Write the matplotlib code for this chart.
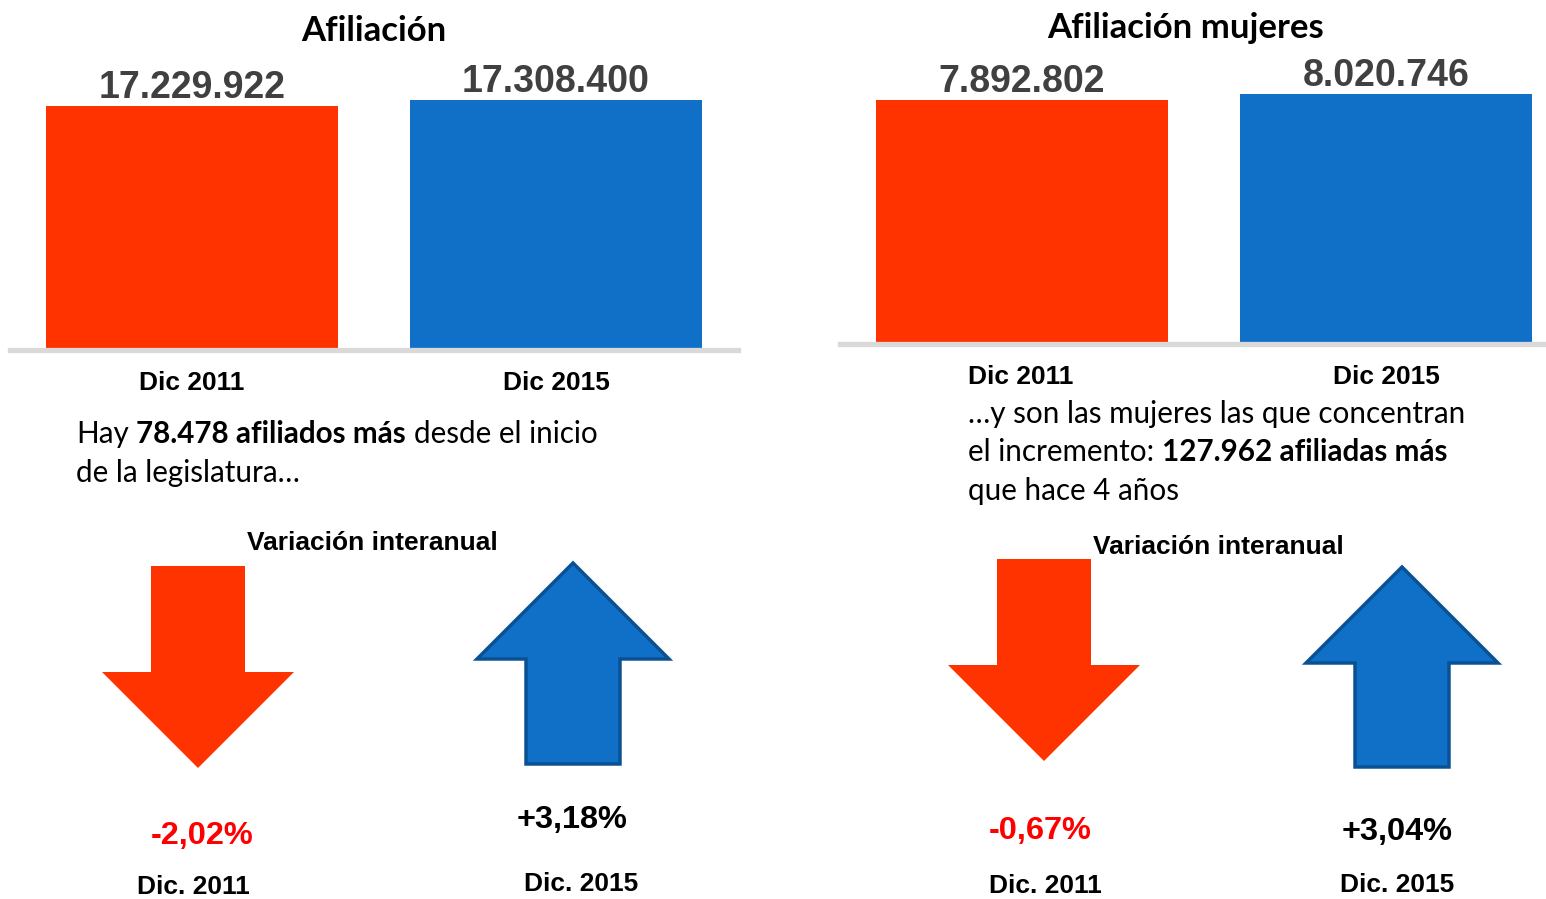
import matplotlib
matplotlib.use("Agg")
import matplotlib.pyplot as plt
from matplotlib.patches import Polygon

W, H = 1546, 899

# data
categories = ["Dic 2011", "Dic 2015"]
afiliacion = [17229922, 17308400]
afiliacion_mujeres = [7892802, 8020746]
var_labels = ["Dic. 2011", "Dic. 2015"]
var_total = [-2.02, 3.18]
var_mujeres = [-0.67, 3.04]

RED = "#ff3300"
BLUE = "#1070c8"
BLUE_EDGE = "#0a5194"
GREY = "#d9d9d9"
SANS = ["Liberation Sans", "DejaVu Sans"]
BODY = ["Lato", "DejaVu Sans"]


def fmt_es(v):
    return f"{v:,}".replace(",", ".")


def fmt_pct(v):
    s = f"{v:+.2f}%" if v > 0 else f"{v:.2f}%"
    return s.replace(".", ",")


def px_axes(fig, x0, y0, x1, y1):
    return fig.add_axes([x0 / W, 1 - y1 / H, (x1 - x0) / W, (y1 - y0) / H])


def bar_panel(ax, values, ylim, xlim):
    bars = ax.bar(range(len(values)), values, width=0.802, color=[RED, BLUE], zorder=1)
    ax.set_xlim(*xlim)
    ax.set_ylim(*ylim)
    for s in ["top", "left", "right"]:
        ax.spines[s].set_visible(False)
    ax.spines["bottom"].set_color(GREY)
    ax.spines["bottom"].set_linewidth(3.8)
    ax.spines["bottom"].set_zorder(3)
    ax.set_xticks([])
    ax.set_yticks([])
    for b, v in zip(bars, values):
        ax.annotate(fmt_es(v), (b.get_x() + b.get_width() / 2, v), xytext=(0, 0),
                    textcoords="offset points", ha="center", va="bottom",
                    fontsize=27, fontweight="bold", color="#404040", family=SANS)


fig = plt.figure(figsize=(W / 100, H / 100), dpi=100)

ax1 = px_axes(fig, 10, 0, 738, 350)
bar_panel(ax1, afiliacion, (14038402, 18616402), (-0.5, 1.5))
ax2 = px_axes(fig, 840, 0, 1546, 344)
bar_panel(ax2, afiliacion_mujeres, (2689746, 10025202), (-0.5, 1.44))

# overlay in pixel coordinates for text and arrows
ov = fig.add_axes([0, 0, 1, 1])
ov.set_xlim(0, W)
ov.set_ylim(H, 0)
ov.axis("off")
ov.patch.set_alpha(0)

ov.text(374, 31, "Afiliación", ha="center", va="center", fontsize=25,
        fontweight="bold", family=BODY)
ov.text(1186, 28, "Afiliación mujeres", ha="center", va="center", fontsize=25,
        fontweight="bold", family=BODY)

for cx, lab in zip([192, 556], categories):
    ov.text(cx, 383, lab, ha="center", va="center", fontsize=19, fontweight="bold", family=SANS)
for cx, lab in zip([1021, 1386], categories):
    ov.text(cx, 377, lab, ha="center", va="center", fontsize=19, fontweight="bold", family=SANS)

renderer = fig.canvas.get_renderer()


def rich_line(x, y, parts, size=21.3):
    sp = ov.text(0, 0, "x x", fontsize=size, family=BODY)
    nsp = ov.text(0, 0, "xx", fontsize=size, family=BODY)
    space = sp.get_window_extent(renderer).width - nsp.get_window_extent(renderer).width
    sp.remove()
    nsp.remove()
    for txt, weight in parts:
        t = ov.text(x, y, txt, fontsize=size, fontweight=weight, family=BODY,
                    ha="left", va="center")
        x += t.get_window_extent(renderer).width + space


rich_line(76, 434, [("Hay", "normal"), ("78.478 afiliados más", "bold"),
                    ("desde el inicio", "normal")])
rich_line(76, 473, [("de la legislatura…", "normal")])
rich_line(968, 414, [("…y son las mujeres las que concentran", "normal")])
rich_line(968, 452, [("el incremento:", "normal"), ("127.962 afiliadas más", "bold")])
rich_line(968, 491, [("que hace 4 años", "normal")])

ov.text(372, 543, "Variación interanual", ha="center", va="center", fontsize=19,
        fontweight="bold", family=SANS)
ov.text(1218, 547, "Variación interanual", ha="center", va="center", fontsize=19,
        fontweight="bold", family=SANS)


def arrow(cx, top, bottom, up):
    # shaft half width 47, head half width 96, head length 96
    sw, hw, hl = 47, 96, 96
    if up:
        base = top + hl
        pts = [(cx, top), (cx + hw, base), (cx + sw, base), (cx + sw, bottom),
               (cx - sw, bottom), (cx - sw, base), (cx - hw, base)]
        ov.add_patch(Polygon(pts, closed=True, facecolor=BLUE, edgecolor=BLUE_EDGE,
                             linewidth=2.5, joinstyle="miter"))
    else:
        base = bottom - hl
        pts = [(cx, bottom), (cx + hw, base), (cx + sw, base), (cx + sw, top),
               (cx - sw, top), (cx - sw, base), (cx - hw, base)]
        ov.add_patch(Polygon(pts, closed=True, facecolor=RED, edgecolor="none"))


arrow_geo_left = [(198, 566, 768), (573, 563, 764)]
arrow_geo_right = [(1044, 559, 761), (1402, 567, 767)]
pct_pos_left = [(202, 836), (572, 820)]
pct_pos_right = [(1040, 831), (1397, 832)]
lab_pos_left = [(193, 887), (581, 884)]
lab_pos_right = [(1045, 886), (1397, 885)]

for vals, geo, ppos, lpos in [(var_total, arrow_geo_left, pct_pos_left, lab_pos_left),
                              (var_mujeres, arrow_geo_right, pct_pos_right, lab_pos_right)]:
    for v, g, pp, lp, lab in zip(vals, geo, ppos, lpos, var_labels):
        arrow(g[0], g[1], g[2], v > 0)
        ov.text(pp[0], pp[1], fmt_pct(v), ha="center", va="center", fontsize=23.4,
                fontweight="bold", color="black" if v > 0 else "#ff0000", family=SANS)
        ov.text(lp[0], lp[1], lab, ha="center", va="center", fontsize=19,
                fontweight="bold", family=SANS)

fig.savefig("out.png", dpi=100)
